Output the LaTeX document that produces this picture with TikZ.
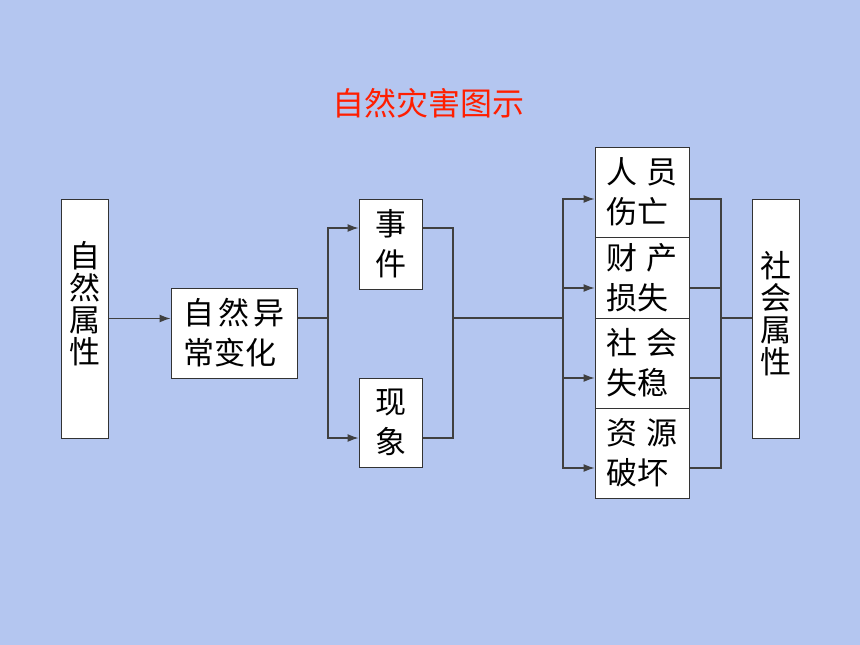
\documentclass[tikz,border=0pt]{standalone}
\usepackage{fontspec}
\setmainfont{Noto Sans CJK SC}
\usetikzlibrary{arrows.meta}
\definecolor{bgblue}{RGB}{180,198,240}
\definecolor{titlered}{RGB}{255,30,0}
\begin{document}
\begin{tikzpicture}[x=1pt,y=-1pt]
    % Define styles for boxes and connectors
    \tikzstyle{cell}=[rectangle, draw=black!80, fill=white, line width=1pt, inner sep=0pt, font=\fontsize{31pt}{40pt}\selectfont, align=left]
    \tikzstyle{tall}=[inner sep=0pt, font=\fontsize{31pt}{32pt}\selectfont, align=center]
    \tikzstyle{link}=[draw=black!75, line width=1.2pt]
    \tikzstyle{flow}=[link, -{Latex[length=11pt,width=8pt]}]

    \useasboundingbox (0,0) rectangle (860,645);
    \fill[bgblue] (0,0) rectangle (860,645);

    % Title
    \node[text=titlered, font=\fontsize{32pt}{32pt}\selectfont] (title) at (428,103) {自然灾害图示};

    % Natural attribute
    \node[cell, minimum width=47pt, minimum height=239pt] (zr) at (84.5,318.5) {};
    \node[tall] (zrt) at ([yshift=15pt]zr.center) {自\\然\\属\\性};

    % Natural anomaly
    \node[cell, minimum width=126pt, minimum height=90pt] (yc) at (234,333) {自\hspace{4pt}然\hspace{4pt}异\\常变化};

    % Event, phenomenon
    \node[cell, minimum width=63pt, minimum height=90pt] (sj) at (390.5,244) {事\\件};
    \node[cell, minimum width=63pt, minimum height=89pt] (xx) at (390.5,422.5) {现\\象};

    % Losses
    \node[cell, minimum width=94pt, minimum height=90pt] (ry) at (642,192) {人\hspace{10pt}员\\伤亡};
    \node[cell, minimum width=94pt, minimum height=81pt] (cc) at (642,277.5) {财\hspace{10pt}产\\损失};
    \node[cell, minimum width=94pt, minimum height=90pt] (sh) at (642,363) {社\hspace{10pt}会\\失稳};
    \node[cell, minimum width=94pt, minimum height=90pt] (zy) at (642,453) {资\hspace{10pt}源\\破坏};

    % Social attribute
    \node[cell, minimum width=47pt, minimum height=239pt] (sx) at (775.5,318.5) {};
    \node[tall] (sxt) at ([yshift=5pt]sx.center) {社\\会\\属\\性};

    % Junctions
    \coordinate (j1) at (328,318);
    \coordinate (j2) at (453,318);
    \coordinate (j3) at (563,318);
    \coordinate (j4) at (721,318);

    % Connectors
    \draw[flow] (zr.east) -- (zr.east -| yc.west);
    \draw[link] (yc.east |- j1) -- (j1);
    \draw[flow] (j1) |- ([yshift=16pt]sj.west);
    \draw[flow] (j1) |- ([yshift=-15.5pt]xx.west);
    \draw[link] ([yshift=16pt]sj.east) -| (j2);
    \draw[link] ([yshift=-15.5pt]xx.east) -| (j2);
    \draw[link] (j2) -- (j3);
    \draw[flow] (j3) |- ([yshift=-7pt]ry.west);
    \draw[flow] (j3) |- ([yshift=-10.5pt]cc.west);
    \draw[flow] (j3) |- ([yshift=-15pt]sh.west);
    \draw[flow] (j3) |- ([yshift=-15pt]zy.west);
    \draw[link] ([yshift=-7pt]ry.east) -| (j4);
    \draw[link] ([yshift=-10.5pt]cc.east) -| (j4);
    \draw[link] ([yshift=-15pt]sh.east) -| (j4);
    \draw[link] ([yshift=-15pt]zy.east) -| (j4);
    \draw[link] (j4) -- (j4 -| sx.west);

\end{tikzpicture}
\end{document}
